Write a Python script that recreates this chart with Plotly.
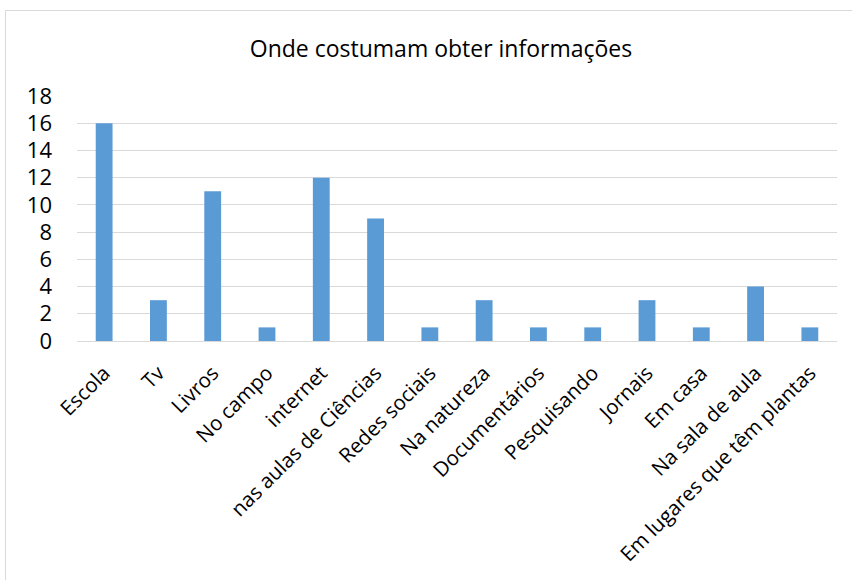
import plotly.graph_objects as go

categories = ["Escola", "Tv", "Livros", "No campo", "internet", "nas aulas de Ciências",
              "Redes sociais", "Na natureza", "Documentários", "Pesquisando", "Jornais",
              "Em casa", "Na sala de aula", "Em lugares que têm plantas"]
values = [16, 3, 11, 1, 12, 9, 1, 3, 1, 1, 3, 1, 4, 1]
y_ticks = [0, 2, 4, 6, 8, 10, 12, 14, 16, 18]
title_text = "Onde costumam obter informações"

W, H = 852, 580
L, R, T, B = 77, 15, 96, 239
pw = W - L - R
ph = H - T - B

FONT = "Open Sans"

fig = go.Figure(go.Bar(
    x=categories, y=values,
    marker=dict(color="#5B9BD5", line=dict(width=0)),
    width=0.31,
))

fig.update_layout(
    width=W, height=H,
    margin=dict(l=L, r=R, t=T, b=B, autoexpand=False),
    paper_bgcolor="white", plot_bgcolor="white",
    showlegend=False,
    font=dict(family=FONT, color="#000000", size=20),
    title=dict(text=title_text, x=441 / W, xanchor="center", xref="container",
               y=1 - 49 / H, yanchor="middle", yref="container",
               font=dict(family=FONT, size=23, color="#000000")),
    xaxis=dict(
        tickangle=-45, automargin=False, showgrid=False,
        showline=True, linecolor="#D9D9D9", linewidth=1,
        tickfont=dict(family=FONT, size=20.5, color="#000000"),
        ticks="", ticklabelstandoff=11,
    ),
    yaxis=dict(
        range=[0, 18], tickvals=y_ticks, automargin=False,
        showgrid=True, gridcolor="#D9D9D9", gridwidth=1,
        zeroline=True, zerolinecolor="#D9D9D9", zerolinewidth=1,
        showline=False, ticks="",
        tickfont=dict(family=FONT, size=22, color="#000000"),
        ticklabelstandoff=24,
    ),
    shapes=[dict(
        type="rect", xref="paper", yref="paper",
        x0=(5.5 - L) / pw, x1=(862 - L) / pw,
        y0=(T + ph - 600) / ph, y1=(T + ph - 10.5) / ph,
        line=dict(color="#D9D9D9", width=1), fillcolor="rgba(0,0,0,0)",
        layer="below",
    )],
)

fig.write_html("out.html")
